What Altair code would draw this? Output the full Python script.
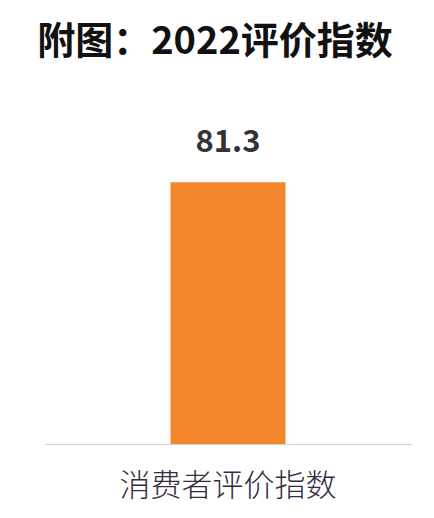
import altair as alt
import pandas as pd

categories = ["消费者评价指数"]
values = [81.3]
labels = ["81.3"]

df = pd.DataFrame({"cat": categories, "val": values, "lab": labels})
FONT = "Noto Sans CJK SC"

base = alt.Chart(df).encode(
    x=alt.X("cat:N", title=None, sort=None,
            axis=alt.Axis(labelAngle=0, labelFontSize=31, labelColor="#352c40",
                          labelFont=FONT, labelFontWeight=300, ticks=False, labelLimit=0,
                          domainColor="#cfd3da", domainWidth=1.2, labelPadding=27,
                          labelBaseline="top")),
    y=alt.Y("val:Q", scale=alt.Scale(domain=[0, 100]), axis=None),
)

bars = base.mark_bar(size=115, color="#F4862E")
text = base.mark_text(font=FONT, fontSize=31, fontWeight="bold", color="#333333",
                      baseline="alphabetic", dy=-30).encode(text="lab:N")

chart = (bars + text).properties(
    width=366, height=322,
    autosize=alt.AutoSizeParams(type="none"),
    padding={"left": 37, "top": 114, "right": 15, "bottom": 66},
    background="#ffffff",
    title=alt.TitleParams("附图：2022评价指数", font=FONT, fontSize=38, fontWeight="bold",
                          color="#111111", anchor="middle", dx=-13, offset=60),
).configure_view(stroke=None)

chart.save("out.html", embed_options={"renderer": "svg", "actions": False})
